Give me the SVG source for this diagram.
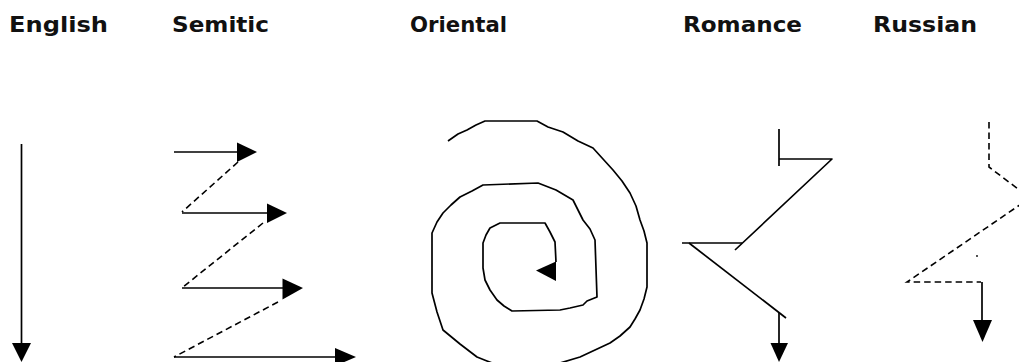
<svg xmlns="http://www.w3.org/2000/svg" width="1019" height="362" viewBox="0 0 1019 362">
<style>
  .lbl { font-family: "DejaVu Sans", "Liberation Sans", sans-serif; font-weight: bold; font-size: 21.5px; fill: #111; }
  .ln { fill: none; stroke: #000; stroke-width: 1.7; stroke-linejoin: round; stroke-linecap: butt; }
  .dash { fill: none; stroke: #000; stroke-width: 1.6; stroke-dasharray: 6.5 4; }
  .head { fill: #000; stroke: none; }
</style>
<rect width="1019" height="362" fill="#fff"/>

<g id="labels">
  <text class="lbl" x="9" y="32" textLength="99" lengthAdjust="spacingAndGlyphs">English</text>
  <text class="lbl" x="172" y="32" textLength="97" lengthAdjust="spacingAndGlyphs">Semitic</text>
  <text class="lbl" x="410" y="32" textLength="97" lengthAdjust="spacingAndGlyphs">Oriental</text>
  <text class="lbl" x="683" y="32" textLength="119" lengthAdjust="spacingAndGlyphs">Romance</text>
  <text class="lbl" x="873" y="32" textLength="104" lengthAdjust="spacingAndGlyphs">Russian</text>
</g>

<g id="english">
  <line class="ln" x1="21.5" y1="144" x2="21.5" y2="345"/>
  <polygon class="head" points="12,343 31,343 21.5,362"/>
</g>

<g id="semitic">
  <line class="ln" x1="174" y1="152" x2="238" y2="152"/>
  <polygon class="head" points="237,142.5 237,162 257,152"/>
  <line class="dash" x1="238" y1="162" x2="182" y2="212"/>
  <line class="ln" x1="182" y1="213" x2="269" y2="213"/>
  <polygon class="head" points="267,203.5 267,223 287,213"/>
  <line class="dash" x1="263" y1="223" x2="183" y2="287"/>
  <line class="ln" x1="182" y1="288" x2="284" y2="288"/>
  <polygon class="head" points="282.5,278.5 282.5,299.5 303,288"/>
  <line class="dash" x1="278" y1="302" x2="174" y2="357"/>
  <line class="ln" x1="174" y1="357" x2="337" y2="357"/>
  <polygon class="head" points="335,348 335,366 356,357"/>
</g>

<g id="oriental">
  <path class="ln" d="M448,141 L458,134 L467,130 L476,125 L485,121 L537,121 L548,127 L563,132 L578,141 L593,148 L603,159 L613,170 L622,181 L630,193 L636,206 L640,220 L644,231 L647,243 L647,287 L644,299 L640,310 L635,319 L630,327 L620,336 L610,343 L595,350 L580,357 L560,363 L540,366 L500,366 L487,361 L477,357 L460,344 L443,330 L437,312 L432,293 L432,233 L437,222 L443,213 L451,205 L460,197 L472,191 L483,185 L538,183 L556,190 L573,200 L578,210 L583,220 L590,229 L595,240 L597,297 L587,301 L583,305 L570,308 L560,310 L512,311 L504,306 L497,300 L490,290 L485,280 L483,268 L483,243 L486,235 L490,228 L500,223 L545,223 L550,232 L555,242 L556,262"/>
  <polygon class="head" points="556,261.5 556,281 536,270.5"/>
</g>

<g id="romance">
  <line class="ln" x1="779" y1="129" x2="779" y2="166"/>
  <polyline class="ln" points="779,159 832,159 735,250"/>
  <line class="ln" x1="682" y1="243" x2="742" y2="243"/>
  <line class="ln" x1="689" y1="243" x2="786" y2="318"/>
  <line class="ln" x1="779" y1="313" x2="779" y2="345"/>
  <polygon class="head" points="770.5,343 788,343 779,362"/>
</g>

<g id="russian">
  <polyline class="dash" points="989,122 989,167 1030,198 907,282 981,282"/>
  <circle cx="977" cy="256" r="0.9" fill="#000"/>
  <line class="ln" x1="982" y1="282" x2="982" y2="322"/>
  <polygon class="head" points="973,320 992,320 982.5,342"/>
</g>
</svg>
